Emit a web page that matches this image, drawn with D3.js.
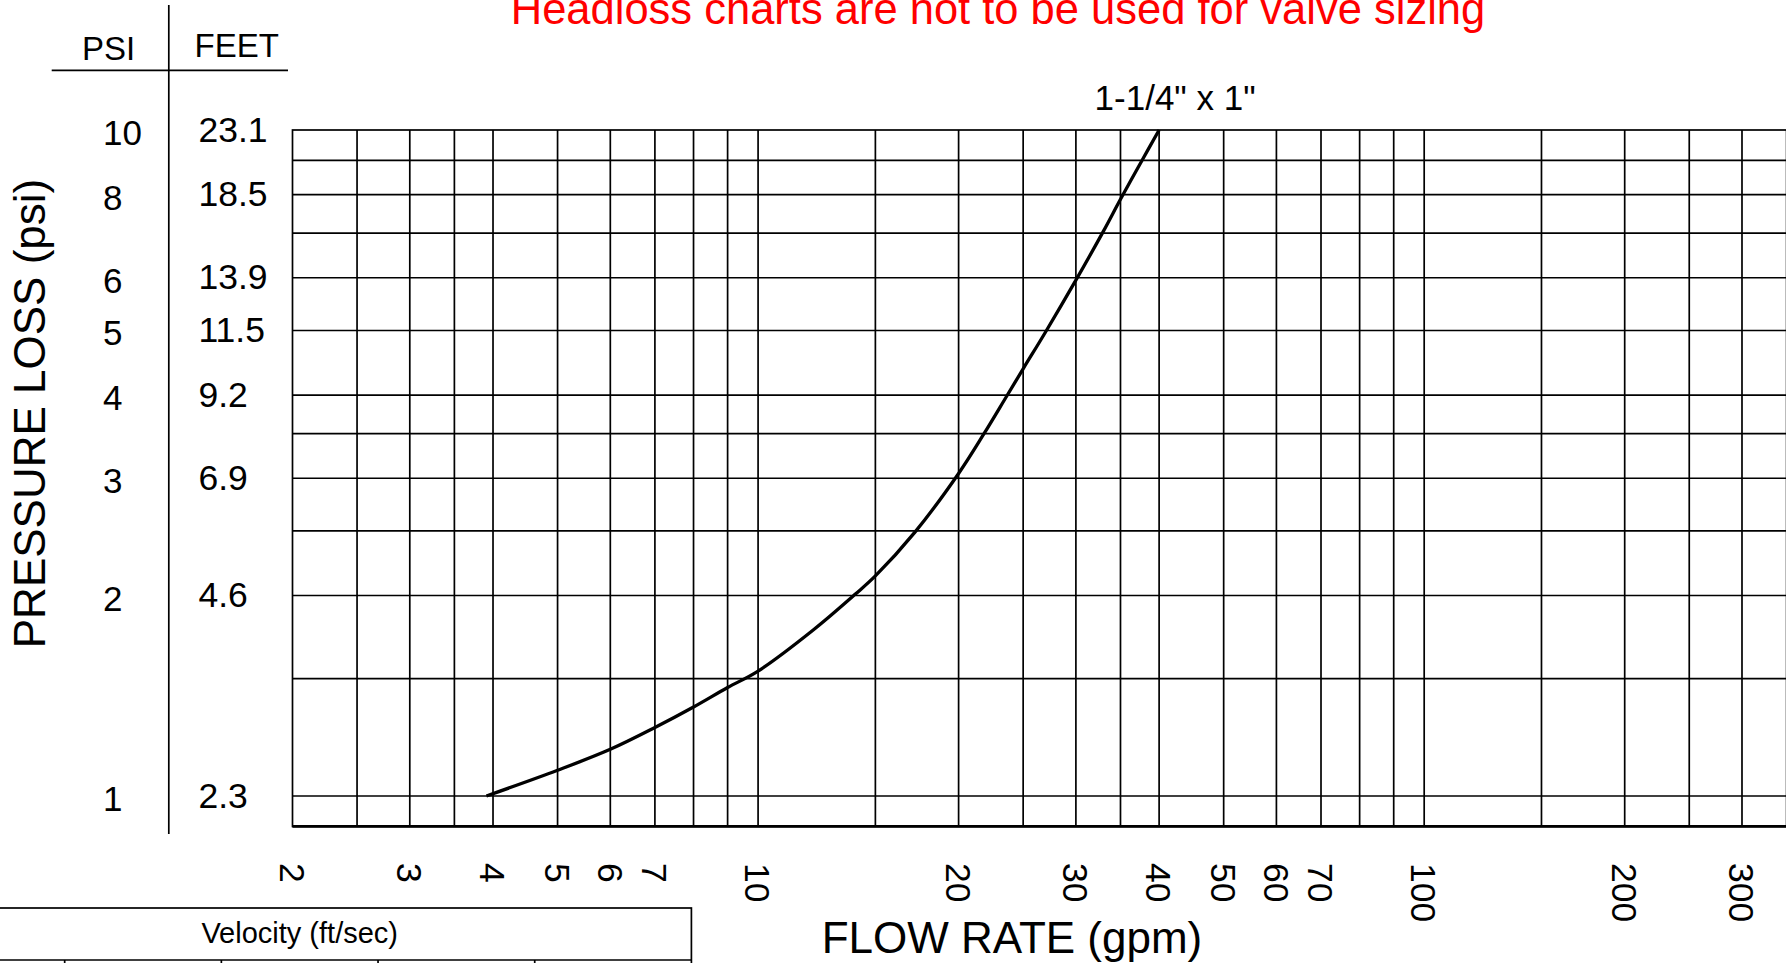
<!DOCTYPE html>
<html>
<head>
<meta charset="utf-8">
<script src="https://cdn.jsdelivr.net/npm/d3@7"></script>
<style>
  html, body { margin: 0; padding: 0; background: #fff; overflow: hidden; }
  svg { display: block; font-family: "Liberation Sans", Arial, sans-serif; }
</style>
</head>
<body>
<svg id="chart" width="1786" height="963"></svg>
<script>
// Headloss curve for the 1-1/4" x 1" size: flow (gpm) vs pressure loss (psi)
const flowGpm = [3.91, 5, 6, 7, 8, 9, 10, 12.1, 14, 15, 17.2, 20, 21.8, 23.6, 25, 27, 30, 33, 35, 37.7, 40];
const lossPsi = [1.0, 1.093, 1.175, 1.267, 1.36, 1.455, 1.54, 1.775, 2.01, 2.14, 2.49, 3.05, 3.49, 3.98, 4.38, 4.97, 5.95, 7.05, 7.87, 9.0, 10.0];
const seriesName = '1-1/4" x 1"';

// Axis tick labels
const psiTicks = [1, 2, 3, 4, 5, 6, 8, 10];
const feetTicks = ["2.3", "4.6", "6.9", "9.2", "11.5", "13.9", "18.5", "23.1"];
const flowTicks = [2, 3, 4, 5, 6, 7, 10, 20, 30, 40, 50, 60, 70, 100, 200, 300];

// Log-paper grid lines
const flowGrid = [2.5, 3, 3.5, 4, 5, 6, 7, 8, 9, 10, 15, 20, 25, 30, 35, 40, 50, 60, 70, 80, 90, 100, 150, 200, 250, 300, 350];
const psiGrid = [1, 1.5, 2, 2.5, 3, 3.5, 4, 5, 6, 7, 8, 9];

const flowDomain = [2, 400];
const psiDomain = [0.9, 10];

const svg = d3.select("#chart");

const x = d3.scaleLog().domain(flowDomain).range([292.5, 292.5 + 666.1 * Math.log10(flowDomain[1] / flowDomain[0])]);
const y = d3.scaleLog().domain(psiDomain).range([130 + 666 * Math.log10(psiDomain[1] / psiDomain[0]), 130]);

const ink = "#000";
const gridW = 1.7;

// Title
svg.append("text")
  .attr("x", 998).attr("y", 23.5)
  .attr("text-anchor", "middle")
  .attr("font-size", 43.5)
  .attr("fill", "#ff0000")
  .text("Headloss charts are not to be used for valve sizing");

// Grid
const grid = svg.append("g").attr("stroke", ink).attr("stroke-width", gridW).attr("fill", "none");

grid.selectAll("line.v").data(flowGrid).join("line")
  .attr("class", "v")
  .attr("x1", d => x(d)).attr("x2", d => x(d))
  .attr("y1", y(psiDomain[0])).attr("y2", y(psiDomain[1]));

grid.selectAll("line.h").data(psiGrid).join("line")
  .attr("class", "h")
  .attr("x1", x(flowDomain[0])).attr("x2", x(flowDomain[1]))
  .attr("y1", d => y(d)).attr("y2", d => y(d));

// Frame
grid.append("rect")
  .attr("x", x(flowDomain[0])).attr("y", y(psiDomain[1]))
  .attr("width", x(flowDomain[1]) - x(flowDomain[0]))
  .attr("height", y(psiDomain[0]) - y(psiDomain[1]));
grid.append("line")
  .attr("x1", x(flowDomain[0])).attr("x2", x(flowDomain[1]))
  .attr("y1", y(psiDomain[0])).attr("y2", y(psiDomain[0]))
  .attr("stroke-width", 2.8);

// Curve
const pts = flowGpm.map((f, i) => [f, lossPsi[i]]);
svg.append("path")
  .datum(pts)
  .attr("fill", "none")
  .attr("stroke", ink)
  .attr("stroke-width", 3.3)
  .attr("stroke-linejoin", "round")
  .attr("d", d3.line().x(d => x(d[0])).y(d => y(d[1])).curve(d3.curveCatmullRom.alpha(0.5)));

svg.append("text")
  .attr("x", x(flowGpm[flowGpm.length - 1]) + 16)
  .attr("y", y(lossPsi[lossPsi.length - 1]) - 20)
  .attr("text-anchor", "middle")
  .attr("font-size", 35)
  .attr("fill", ink)
  .text(seriesName);

// PSI / FEET scale on the left
svg.append("line").attr("x1", 51.7).attr("x2", 288).attr("y1", 70.3).attr("y2", 70.3)
  .attr("stroke", ink).attr("stroke-width", gridW);
svg.append("line").attr("x1", 168.8).attr("x2", 168.8).attr("y1", 5).attr("y2", 834)
  .attr("stroke", ink).attr("stroke-width", gridW);

svg.append("text").attr("x", 82).attr("y", 60).attr("font-size", 33).attr("fill", ink).text("PSI");
svg.append("text").attr("x", 194.5).attr("y", 56.7).attr("font-size", 33).attr("fill", ink).text("FEET");

svg.append("g").selectAll("text").data(psiTicks).join("text")
  .attr("x", 103).attr("y", d => y(d) + 15)
  .attr("font-size", 35).attr("fill", ink)
  .text(d => d);

svg.append("g").selectAll("text").data(feetTicks).join("text")
  .attr("x", 198.5).attr("y", (d, i) => y(psiTicks[i]) + 11.5)
  .attr("font-size", 35.5).attr("fill", ink)
  .text(d => d);

svg.append("text")
  .attr("transform", "translate(45,413.5) rotate(-90)")
  .attr("text-anchor", "middle")
  .attr("font-size", 44).attr("fill", ink)
  .text("PRESSURE LOSS (psi)");

// Flow axis labels, turned to read downward
svg.append("g").selectAll("text").data(flowTicks).join("text")
  .attr("transform", d => `translate(${x(d)},863) rotate(90)`)
  .attr("dy", "0.36em")
  .attr("font-size", 35.5).attr("fill", ink)
  .text(d => d);

svg.append("text")
  .attr("x", 1012).attr("y", 953)
  .attr("text-anchor", "middle")
  .attr("font-size", 44).attr("fill", ink)
  .text("FLOW RATE (gpm)");

// Velocity table header
const col = d3.scaleLinear().domain([0, 5]).range([-92, 691.4]);
const table = svg.append("g").attr("stroke", ink).attr("stroke-width", gridW).attr("fill", "none");
table.append("rect").attr("x", col(0)).attr("y", 908).attr("width", col(5) - col(0)).attr("height", 120);
table.append("line").attr("x1", col(0)).attr("x2", col(5)).attr("y1", 960).attr("y2", 960);
table.selectAll("line.c").data(d3.range(1, 5)).join("line")
  .attr("class", "c")
  .attr("x1", d => col(d)).attr("x2", d => col(d))
  .attr("y1", 960).attr("y2", 1000);

svg.append("text")
  .attr("x", (col(0) + col(5)) / 2).attr("y", 943)
  .attr("text-anchor", "middle")
  .attr("font-size", 29).attr("fill", ink)
  .text("Velocity (ft/sec)");
</script>
</body>
</html>
